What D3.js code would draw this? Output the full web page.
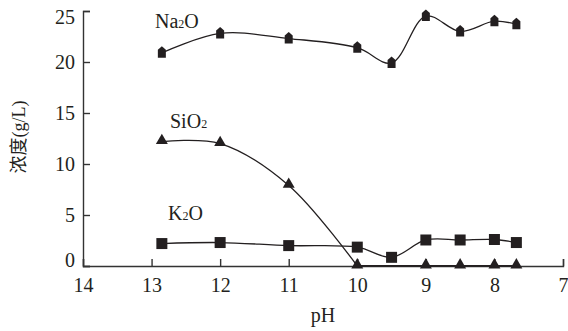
<!DOCTYPE html>
<html>
<head>
<meta charset="utf-8">
<script src="https://cdn.jsdelivr.net/npm/d3@7"></script>
<style>
  body { margin: 0; background: #fff; }
  svg text { font-family: "Liberation Serif", "Noto Sans CJK SC", serif; fill: #231f20; }
</style>
</head>
<body>
<div id="display"></div>
<script>
// pH values where samples were taken
var phNa = [12.85, 12.0, 11.0, 10.0, 9.5, 9.0, 8.5, 8.0, 7.68];
var na2o = [20.9, 22.8, 22.3, 21.4, 19.9, 24.5, 23.0, 24.0, 23.7];
var phSi = [12.85, 12.0, 11.0, 10.0, 9.0, 8.5, 8.0, 7.68];
var sio2 = [12.2, 12.0, 7.9, 0, 0, 0, 0, 0];
var phK = [12.85, 12.0, 11.0, 10.0, 9.5, 9.0, 8.5, 8.0, 7.68];
var k2o = [2.2, 2.3, 2.0, 1.85, 0.85, 2.55, 2.55, 2.6, 2.3];
var xTicks = [14, 13, 12, 11, 10, 9, 8, 7];
var yTicks = [0, 5, 10, 15, 20, 25];

var width = 568, height = 331;
var margin = {left: 83, right: 5, top: 11, bottom: 65};

var svg = d3.select("#display").append("svg")
    .attr("width", width)
    .attr("height", height);

var x = d3.scaleLinear()
    .domain([14, 7])
    .range([margin.left, width - margin.right]);

var y = d3.scaleLinear()
    .domain([0, 25])
    .range([height - margin.bottom, margin.top]);

// clip so that no curve dips under the x axis
svg.append("clipPath").attr("id", "plotClip")
  .append("rect")
    .attr("x", 0).attr("y", 0)
    .attr("width", width).attr("height", y(0) + 0.7);

// axes, ticks pointing inwards
var xAxis = d3.axisBottom(x).tickValues(xTicks).tickFormat(d3.format("d"))
    .tickSizeInner(-7).tickSizeOuter(-7).tickPadding(12);
var yAxis = d3.axisLeft(y).tickValues(yTicks).tickFormat(d3.format("d"))
    .tickSizeInner(-7).tickSizeOuter(-7).tickPadding(8);

var gx = svg.append("g")
    .attr("transform", `translate(0,${y(0)})`)
    .call(xAxis);
var gy = svg.append("g")
    .attr("transform", `translate(${x(14)},0)`)
    .call(yAxis);

[gx, gy].forEach(function(g){
  g.selectAll("path, line").attr("stroke", "#333").attr("stroke-width", 1.4);
  g.selectAll("text").style("font-size", "20px").attr("fill", "#231f20");
});
// end labels sit inside the axis range
gy.selectAll(".tick text").attr("dy", d => d == 25 ? "0.62em" : d == 0 ? "0.02em" : "0.32em");

// lines
var curve = d3.curveCatmullRom.alpha(0.5);
function drawLine(pts, c, w) {
  svg.append("path")
      .datum(pts)
      .attr("fill", "none")
      .attr("stroke", "#231f20")
      .attr("stroke-width", w || 1.3)
      .attr("clip-path", "url(#plotClip)")
      .attr("d", d3.line().x(d => x(d[0])).y(d => y(d[1])).curve(c));
}
function toPts(xs, ys) { return xs.map((p, i) => [p, ys[i]]); }

var naPts = toPts(phNa, na2o);
var siPts = toPts(phSi, sio2);
var kPts = toPts(phK, k2o);

drawLine(naPts, curve);
// SiO2 falls to zero at pH 10 then runs along the axis
drawLine(siPts.filter(d => d[0] >= 10), curve);
drawLine(siPts.filter(d => d[0] <= 10), d3.curveLinear, 2);
drawLine(kPts, curve);

// markers
var house = "M0,-6.5L4,-3L4,5L-4,5L-4,-3Z";
svg.append("g").selectAll("path")
    .data(naPts).join("path")
    .attr("d", house)
    .attr("fill", "#231f20")
    .attr("transform", d => `translate(${x(d[0])},${y(d[1])})`);

svg.append("g").selectAll("path")
    .data(siPts).join("path")
    .attr("d", d3.symbol(d3.symbolTriangle, 62))
    .attr("fill", "#231f20")
    .attr("transform", d => `translate(${x(d[0])},${y(d[1]) - 1})`);

svg.append("g").selectAll("path")
    .data(kPts).join("path")
    .attr("d", d3.symbol(d3.symbolSquare, 121))
    .attr("fill", "#231f20")
    .attr("transform", d => `translate(${x(d[0])},${y(d[1])})`);

// series labels: text, subscript, text after
function seriesLabel(px, py, a, b) {
  var t = svg.append("text").attr("x", px).attr("y", py).style("font-size", "20px");
  t.append("tspan").text(a);
  t.append("tspan").text("2").style("font-size", "12px");
  if (b) t.append("tspan").text(b);
}
seriesLabel(155, 28, "Na", "O");
seriesLabel(170, 128, "SiO");
seriesLabel(168, 220, "K", "O");

// axis titles
svg.append("text")
    .attr("x", (x(14) + x(7)) / 2)
    .attr("y", 322)
    .attr("text-anchor", "middle")
    .style("font-size", "20px")
    .text("pH");

svg.append("text")
    .attr("transform", "translate(19,137) rotate(-90)")
    .attr("text-anchor", "middle")
    .attr("dy", "0.35em")
    .style("font-size", "18px")
    .text("浓度(g/L)");
</script>
</body>
</html>
